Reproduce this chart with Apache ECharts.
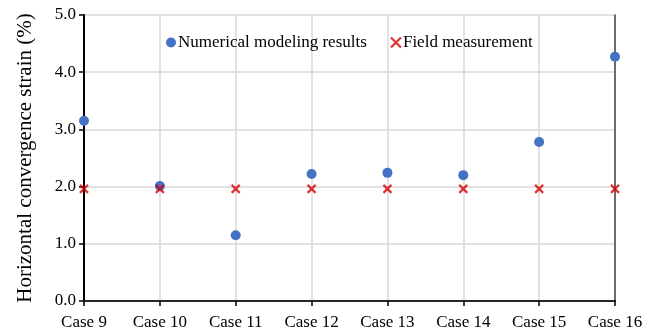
<!DOCTYPE html>
<html>
<head>
<meta charset="utf-8">
<script src="https://cdn.jsdelivr.net/npm/echarts@6/dist/echarts.min.js"></script>
<style>
  html, body { margin: 0; padding: 0; background: #fff; }
  #chart { width: 646px; height: 334px; }
</style>
</head>
<body>
<div id="chart"></div>
<script>
// Case labels along the horizontal axis
const cases = ['Case 9', 'Case 10', 'Case 11', 'Case 12', 'Case 13', 'Case 14', 'Case 15', 'Case 16'];
// Horizontal convergence strain (%) per case
const numericalResults = [3.15, 2.01, 1.15, 2.22, 2.24, 2.20, 2.78, 4.27];
const fieldMeasurement = [1.96, 1.96, 1.96, 1.96, 1.96, 1.96, 1.96, 1.96];
// Value axis range
const yMin = 0, yMax = 5, yStep = 1;

const serif = '"Liberation Serif", "Times New Roman", serif';
const chart = echarts.init(document.getElementById('chart'), null, { renderer: 'canvas' });

// Cross-shaped marker for the field measurements
const crossPath = 'path://M0,0 L10,10 M10,0 L0,10';

chart.setOption({
  animation: false,
  backgroundColor: '#fff',
  grid: { left: 84, right: 31, top: 15, bottom: 33 },
  legend: {
    top: 29, left: 161, itemGap: 23, itemWidth: 10, itemHeight: 10,
    textStyle: { fontFamily: serif, fontSize: 17, color: '#000', padding: [0, 0, 0, -3] },
    data: [
      { name: 'Numerical modeling results', icon: 'circle' },
      { name: 'Field measurement', icon: crossPath, itemStyle: { color: 'transparent', borderColor: '#d40000', borderWidth: 2.2 } }
    ]
  },
  xAxis: [
    {
      type: 'category', data: cases, boundaryGap: false,
      axisLine: { lineStyle: { color: '#000', width: 2 } },
      axisTick: { show: true, length: 5, alignWithLabel: true, lineStyle: { color: '#000', width: 1.5 } },
      axisLabel: { fontFamily: serif, fontSize: 17, color: '#000', margin: 13, interval: 0 },
      splitLine: { show: true, lineStyle: { color: '#d9d9d9', width: 1.5 } }
    },
    {
      // top frame line
      type: 'category', data: cases, boundaryGap: false, position: 'top',
      axisLine: { show: true, lineStyle: { color: '#333', width: 1.5 } },
      axisTick: { show: false }, axisLabel: { show: false }, splitLine: { show: false }
    }
  ],
  yAxis: [
    {
      type: 'value', min: yMin, max: yMax, interval: yStep,
      name: 'Horizontal convergence strain (%)', nameLocation: 'middle', nameGap: 48,
      nameTextStyle: { fontFamily: serif, fontSize: 21, color: '#000' },
      axisLine: { show: true, lineStyle: { color: '#000', width: 2 } },
      axisTick: { show: true, length: 5, lineStyle: { color: '#000', width: 1.5 } },
      axisLabel: { fontFamily: serif, fontSize: 17, color: '#000', margin: 8, formatter: v => v.toFixed(1) },
      splitLine: { show: true, lineStyle: { color: '#d9d9d9', width: 1.5 } }
    },
    {
      // right frame line
      type: 'value', min: yMin, max: yMax, interval: yStep, position: 'right',
      axisLine: { show: true, lineStyle: { color: '#444', width: 1.5 } },
      axisTick: { show: false }, axisLabel: { show: false }, splitLine: { show: false }
    }
  ],
  series: [
    {
      name: 'Numerical modeling results', type: 'scatter', data: numericalResults,
      symbol: 'circle', symbolSize: 10, z: 3,
      itemStyle: { color: '#4472c4', opacity: 1 }
    },
    {
      name: 'Field measurement', type: 'scatter', data: fieldMeasurement,
      symbol: crossPath, symbolSize: 8, z: 4,
      itemStyle: { color: 'transparent', borderColor: '#d40000', borderWidth: 2.2 }
    }
  ]
});
</script>
</body>
</html>
